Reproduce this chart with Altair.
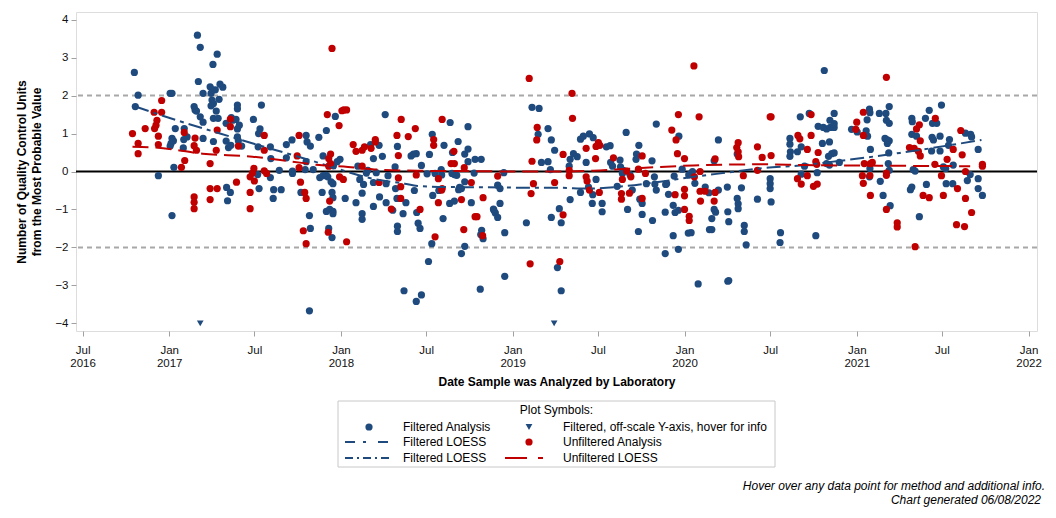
import altair as alt
import pandas as pd

# ---------------- data (x = days after 2016-07-01, y = control units from MPV) -------------
filtered_points = [
    (110, 2.61), (118, 2.01), (112, 1.71), (161, -0.11), (186, 2.06), (190, 2.06), (197, 1.13),
    (193, 0.81), (190, 0.87), (188, 0.74), (186, 0.67), (194, 0.11), (190, -1.16), (216, 1.13),
    (215, 0.84), (222, 0.91), (214, 0.62), (244, 3.59), (250, 3.27), (246, 2.37), (237, 1.71),
    (239, 1.62), (242, 1.59), (250, 1.44), (256, 1.30), (256, 2.06), (256, 0.87), (271, 2.23),
    (276, 2.15), (273, 2.06), (275, 1.88), (278, 1.79), (273, 1.73), (282, 2.15), (290, 1.90),
    (277, 2.82), (286, 3.09), (292, 2.30), (298, 2.22), (284, 1.59), (278, 1.40), (288, 1.40),
    (278, 0.79), (305, 1.27), (305, 0.80), (310, 0.63), (315, 0.69), (316, 1.42), (319, 1.35),
    (329, 1.75), (329, 1.65), (326, 1.37), (333, 1.22), (329, 1.12), (329, 0.91), (331, 0.81),
    (338, 0.67), (306, -0.42), (314, -0.55), (308, -0.77), (363, 1.37), (380, 1.75), (377, 1.12),
    (374, 1.00), (373, 0.65), (372, -0.08), (375, -0.45), (399, 0.65), (400, 0.34), (399, -0.16),
    (406, -0.48), (405, -0.71), (422, -0.48), (418, 0.03), (433, 0.71), (445, 0.83), (433, 0.36),
    (446, 0.01), (446, -0.05), (475, 0.95), (477, 0.78), (484, 0.67), (475, 0.26), (473, 0.05),
    (490, 0.05), (464, -0.55), (482, -1.16), (484, -1.50), (482, -3.67),
    (502, 0.90), (518, 1.08), (537, 1.45), (511, 0.41), (504, -0.16), (511, -0.11), (518, -0.10),
    (521, -0.14), (509, -0.55), (528, -0.27), (532, -0.32), (530, -0.55), (532, -0.69),
    (518, -1.05), (525, -1.00), (532, -1.05), (532, -1.11), (523, -1.50), (530, -1.74),
    (533, 0.15), (541, 0.26), (547, 0.32), (558, -0.71), (585, 0.14), (589, -0.21), (597, -0.34),
    (594, -0.57), (581, -0.82), (594, -1.11), (594, -1.26), (603, -0.04), (606, 0.03), (612, 0.71),
    (624, -0.03), (630, 0.69), (618, 0.34), (618, -0.29), (618, -0.92), (637, 0.40), (643, 1.50),
    (631, -0.67), (645, -0.82), (649, -0.11), (645, -0.32), (664, 0.12), (665, -0.45), (668, -0.71),
    (669, 0.66), (669, -1.44), (669, -1.58), (659, -1.02), (681, -1.11), (687, -0.82), (683, -3.14),
    (698, 0.41), (703, 0.46), (709, 0.47), (705, -0.50), (710, -1.08), (713, -1.36), (717, -1.50),
    (720, 0.16), (709, -3.42), (720, -3.25), (732, -0.06), (737, 0.45), (744, -0.63), (743, 0.98),
    (749, -0.05), (757, -0.50), (762, 0.05), (763, -0.09), (768, 0.69), (766, -1.24), (735, -2.37),
    (742, -1.90), (781, 1.29), (780, -0.84), (790, -0.78), (785, -0.05), (790, -0.08), (795, -0.10),
    (786, 0.50), (798, 0.79), (799, -0.48), (801, -0.42), (805, -0.45), (812, -1.97), (805, -2.16),
    (812, -0.27), (812, 0.46), (819, 0.59), (819, 1.18), (819, 0.26), (826, -0.82), (832, -0.04),
    (834, 0.32), (847, 0.32), (845, -3.10), (848, -1.55), (851, -1.77), (846, -1.66), (873, -0.99),
    (877, -1.09), (882, -1.21), (887, -0.84), (874, -1.02), (887, -0.45), (882, -0.36), (895, -0.03),
    (897, -1.61), (897, -2.76), (943, -1.35), (955, 1.69), (970, 1.66), (968, 0.98), (975, 0.24),
    (989, 0.26), (989, 1.13), (996, 0.83), (1003, 0.56), (994, 0.05), (996, -1.21), (1013, -0.98),
    (1017, -1.35), (1009, -2.53), (1017, -3.14),
    (1036, 0.32), (1034, 0.14), (1043, 0.47), (1051, 0.39), (1036, -0.74), (1058, 0.85),
    (1064, 0.93), (1077, 0.99), (1085, 0.89), (1070, 0.24), (1058, -0.55), (1084, -0.61),
    (1083, -0.84), (1091, -0.21), (1075, -0.41), (1104, -0.84), (1104, -1.06), (1113, 0.65),
    (1121, 0.68), (1122, 0.24), (1126, 0.14), (1142, 0.30), (1143, 0.12), (1149, 0.03), (1155, 1.03),
    (1136, -0.39), (1147, -0.05), (1163, -0.08), (1168, -0.49), (1158, -1.00), (1182, 0.69),
    (1177, 0.46), (1176, 0.32), (1184, -0.73), (1189, -0.84), (1189, -1.13), (1181, -1.58),
    (1198, -0.32), (1210, 0.28), (1215, -0.14), (1216, -0.33), (1219, -0.49), (1211, -1.29),
    (1219, 1.25), (1239, -0.34), (1241, -0.32), (1245, -0.60), (1238, -1.07), (1238, -2.16),
    (1257, -0.12), (1267, 0.93), (1255, -0.89), (1259, -1.08), (1266, -1.02), (1255, -1.69),
    (1266, -2.05), (1274, 0.06), (1288, -0.09), (1293, -0.05), (1296, 0.00), (1301, -0.31),
    (1287, -1.62), (1293, -1.61), (1308, -2.96), (1323, -0.41), (1331, -0.56), (1332, -1.53),
    (1337, -1.53), (1337, -1.24), (1342, -1.00), (1345, -1.07), (1342, 0.28), (1351, 0.83),
    (1351, -0.49), (1370, -0.41), (1371, -1.06), (1373, -1.32), (1371, -2.89), (1373, -2.87),
    (1391, 0.46), (1391, -0.71), (1393, -0.85), (1393, -0.98), (1400, -0.43), (1406, -1.42),
    (1406, -1.58), (1410, -1.93), (1434, -0.73), (1461, -0.19), (1461, -0.32), (1461, -0.45),
    (1463, -0.80), (1483, -1.61), (1482, -1.87), (1503, 0.87), (1503, 0.72), (1504, 0.52),
    (1503, 0.40), (1519, 0.52), (1525, 1.44), (1527, 0.65), (1527, -0.07), (1534, 0.14),
    (1544, 1.53), (1563, 1.19), (1574, 1.16), (1581, 1.12), (1589, 1.16), (1597, 1.16), (1597, 1.26),
    (1588, 1.35), (1597, 1.53), (1572, 0.74), (1587, 0.78), (1585, 0.40), (1592, 0.47), (1597, 0.49),
    (1587, 0.17), (1581, 0.21), (1608, 0.24), (1561, -0.03), (1576, 2.66), (1558, -1.69),
    (1634, 1.11), (1646, 1.04), (1667, 1.36), (1665, 1.07), (1668, 0.93), (1672, 1.64), (1673, 1.55),
    (1674, 0.58), (1673, 0.08), (1672, -0.14), (1693, 1.53), (1695, -0.26), (1701, -0.63),
    (1707, 1.53), (1708, 1.35), (1714, 1.71), (1714, 1.27), (1705, 0.87), (1710, 0.83), (1714, 0.81),
    (1710, 0.74), (1713, 0.49), (1712, 0.21), (1714, 0.03), (1716, -0.90), (1762, 1.40), (1763, 1.31),
    (1762, 0.98), (1772, 0.93), (1765, 0.05), (1769, 0.01), (1759, -0.48), (1762, -0.41),
    (1793, -0.34), (1778, -1.19), (1799, 1.61), (1791, 1.40), (1806, 1.27), (1815, 1.27), (1805, 0.90),
    (1808, 0.83), (1822, 0.93), (1822, 0.54), (1804, 0.54), (1825, 1.75), (1842, 0.84), (1840, 0.69),
    (1829, 0.12), (1834, 0.08), (1850, 0.17), (1835, -0.32), (1849, -0.32), (1876, 1.01), (1887, 0.98),
    (1889, 0.91), (1903, 0.58), (1886, -0.08), (1880, -0.24), (1903, -0.19), (1903, -0.45),
    (1912, -0.63),
]

offscale_points = [(250, -4.0), (1002, -4.0)]

unfiltered_points = [
    (106, 1.00), (118, 0.74), (118, 0.47), (133, 1.13), (152, 1.56), (168, 1.56), (168, 1.87),
    (158, 1.35), (156, 1.22), (153, 1.13), (161, 0.93), (161, 0.71), (216, 1.03), (217, 0.29),
    (210, 0.11), (239, 0.88), (237, 0.68), (242, 0.56), (237, -0.67), (237, -0.81), (237, -0.98),
    (271, 0.21), (271, -0.45), (286, -0.45), (271, -0.74), (286, 1.09), (284, 0.56), (314, 1.38),
    (314, 1.18), (331, 0.67), (327, -0.28), (356, -0.55), (356, -0.98), (364, 0.08), (361, -0.04),
    (356, -0.14), (365, -0.25), (386, 0.95), (386, 0.56), (386, 0.02), (391, -0.05), (456, 0.41),
    (460, 0.95), (460, 0.10), (463, -0.28), (472, -0.55), (475, -0.71), (469, -1.56), (475, -1.90),
    (530, 3.24), (520, 1.50), (551, 1.60), (555, 1.62), (561, 1.62), (545, 1.21), (527, 0.46),
    (523, 0.34), (527, 0.21), (523, 0.14), (546, -0.14), (554, -0.21), (525, -0.78), (522, -1.60),
    (561, -1.85), (575, 0.71), (581, 0.53), (594, 0.56), (599, 0.65), (613, 0.61), (622, 0.84),
    (622, 0.78), (594, 0.14), (630, -0.29), (656, -0.99), (668, 0.95), (671, 0.42), (677, 1.37),
    (671, -0.17), (676, -0.40), (676, -0.71), (692, 0.92), (707, 1.13), (709, -0.09), (717, -1.00),
    (746, 0.84), (746, 0.69), (764, 1.37), (756, -0.19), (764, -0.45), (763, -0.49), (756, -0.82),
    (749, -1.72), (789, 0.53), (783, 0.21), (790, 0.21), (811, 0.10), (826, -0.29), (805, -0.74),
    (851, -0.69), (834, -1.19), (838, -1.19), (810, -1.53), (850, -1.69), (882, -0.12), (949, 2.45),
    (966, 1.16), (965, 0.83), (955, 0.27), (958, -0.32), (953, -0.58), (951, -2.43), (1003, -0.29),
    (1021, 0.45), (1021, -1.14), (1014, -2.37),
    (1040, 2.06), (1041, 1.40), (1034, 0.03), (1034, -0.11), (1070, 0.61), (1070, -0.14),
    (1072, -0.25), (1077, -0.49), (1090, 0.34), (1091, 0.66), (1096, 0.76), (1099, 0.69),
    (1098, -0.55), (1128, 0.36), (1145, -0.58), (1145, -0.73), (1147, -0.21), (1162, -0.57),
    (1165, -0.14), (1156, 0.01), (1181, 0.06), (1189, 0.41), (1196, -0.05), (1189, -0.71),
    (1252, 1.09), (1261, 0.83), (1266, 1.50), (1264, 0.47), (1279, 0.34), (1259, -0.61),
    (1279, -0.47), (1279, -0.64), (1279, -1.00), (1289, -1.18), (1289, -1.29), (1299, 2.78),
    (1310, 1.44), (1300, -0.14), (1312, 0.00), (1312, -0.52), (1323, -0.52), (1313, -0.78),
    (1342, -0.78), (1344, 0.33), (1344, -0.55), (1404, -0.11), (1393, 0.76), (1390, 0.63),
    (1393, 0.52), (1394, 0.39), (1434, 0.65), (1444, 0.37), (1434, 0.03), (1463, 0.42), (1463, 1.44),
    (1461, 1.44), (1520, 0.95), (1524, 0.86), (1519, -0.19), (1527, -0.33),
    (1548, 1.50), (1548, 0.95), (1540, 0.58), (1563, 0.50), (1558, 0.26), (1560, 0.19), (1540, -0.11),
    (1553, -0.39), (1561, -0.33), (1645, 1.30), (1643, 1.11), (1659, 1.56), (1659, 0.95), (1661, 0.21),
    (1674, 0.21), (1678, 0.24), (1657, -0.11), (1673, -0.11), (1659, -0.31), (1674, -0.63),
    (1708, 2.48), (1708, -0.04), (1708, -0.10), (1708, -1.00), (1731, -1.35), (1731, -1.46),
    (1757, 0.63), (1772, 1.12), (1778, 1.23), (1780, 0.81), (1767, 0.61), (1776, 0.53), (1780, 0.41),
    (1769, -1.98), (1786, -0.63), (1799, -0.69), (1812, 1.40), (1811, 0.19), (1837, 0.32),
    (1825, -0.11), (1829, -0.63), (1850, 0.58), (1866, 1.08), (1869, 0.44), (1876, 0.00),
    (1859, -0.45), (1876, -0.71), (1889, -1.08), (1857, -1.40), (1874, -1.45), (1912, 0.19),
    (1912, 0.14),
]

filtered_loess = [
    (112, 1.71), (200, 1.35), (292, 1.00), (400, 0.60), (483, 0.30), (547, 0.05), (620, -0.20),
    (684, -0.32), (712, -0.38), (783, -0.41), (890, -0.42), (960, -0.43), (1014, -0.43),
    (1071, -0.45), (1156, -0.38), (1227, -0.27), (1298, -0.14), (1368, -0.03), (1439, 0.08),
    (1524, 0.16), (1595, 0.26), (1737, 0.49), (1910, 0.83),
]

unfiltered_loess = [
    (106, 0.65), (156, 0.63), (255, 0.47), (361, 0.39), (446, 0.26), (503, 0.17), (564, 0.12),
    (627, 0.05), (712, 0.02), (819, 0.01), (925, 0.00), (1014, 0.00), (1085, 0.02), (1156, 0.07),
    (1227, 0.12), (1298, 0.16), (1368, 0.18), (1439, 0.19), (1535, 0.17), (1737, 0.15), (1886, 0.14),
]

reference_lines = [2, -2]
tick_dates = ["2016-07-01", "2017-01-01", "2017-07-01", "2018-01-01", "2018-07-01",
              "2019-01-01", "2019-07-01", "2020-01-01", "2020-07-01", "2021-01-01",
              "2021-07-01", "2022-01-01"]
x_domain = ["2016-06-17", "2022-01-19"]
y_ticks = [-4, -3, -2, -1, 0, 1, 2, 3, 4]

BLUE = "#1F4A7E"
RED = "#C00000"
FONT = "Liberation Sans"
BASE = pd.Timestamp("2016-07-01")


def ms(ts):
    return int(pd.Timestamp(ts).value // 10**6)


def frame(points):
    df = pd.DataFrame(points, columns=["day", "val"])
    df["t"] = [ms(BASE + pd.Timedelta(days=float(d))) for d in df["day"]]
    return df


x_scale = alt.Scale(type="utc", domain=[ms(d) for d in x_domain])
y_scale = alt.Scale(domain=[-4.2, 4.2], nice=False, zero=False)

x_axis = alt.Axis(
    values=[ms(d) for d in tick_dates],
    labelExpr="[utcFormat(datum.value, '%b'), (utcmonth(datum.value) == 0 || utcyear(datum.value) == 2016) ? utcFormat(datum.value, '%Y') : '']",
    title="Date Sample was Analyzed by Laboratory",
    domain=False, grid=False, tickColor="#A0A0A0", tickSize=5,
    labelFontSize=11.5, labelColor="#111111", labelPadding=8, labelLineHeight=13,
    labelFont=FONT, titleFont=FONT, titleFontSize=12, titleFontWeight="bold",
    titleColor="#000000", titleY=45, titleBaseline="top",
)
y_axis = alt.Axis(
    values=y_ticks, format="d",
    title=["Number of Quality Control Units", "from the Most Probable Value"],
    domain=False, grid=False, tickColor="#A0A0A0", tickSize=5,
    labelFontSize=11.5, labelColor="#111111", labelPadding=3,
    labelFont=FONT, titleFont=FONT, titleFontSize=12, titleFontWeight="bold",
    titleColor="#000000", titleX=-48, titleBaseline="bottom", titleLineHeight=15,
)

X = alt.X("t:T", scale=x_scale, axis=x_axis)
Y = alt.Y("val:Q", scale=y_scale, axis=y_axis)

refs = alt.Chart(pd.DataFrame({"val": reference_lines})).mark_rule(
    color="#A8A8A8", strokeWidth=2, strokeDash=[5, 4]
).encode(y=Y)
zero = alt.Chart(pd.DataFrame({"val": [0]})).mark_rule(
    color="#000000", strokeWidth=2
).encode(y=Y)

filt_pts = alt.Chart(frame(filtered_points)).mark_circle(
    size=52, color=BLUE, opacity=1
).encode(x=X, y=Y)
off_pts = alt.Chart(frame(offscale_points)).mark_point(
    shape="triangle-down", filled=True, size=45, color=BLUE, opacity=1
).encode(x=X, y=Y)
unf_pts = alt.Chart(frame(unfiltered_points)).mark_circle(
    size=52, color=RED, opacity=1
).encode(x=X, y=Y)

filt_line = alt.Chart(frame(filtered_loess)).mark_line(
    color=BLUE, strokeWidth=2, strokeDash=[14, 5, 4, 5], interpolate="monotone"
).encode(x=X, y=Y, order="day:Q")
unf_line = alt.Chart(frame(unfiltered_loess)).mark_line(
    color=RED, strokeWidth=2, strokeDash=[16, 7], interpolate="monotone"
).encode(x=X, y=Y, order="day:Q")

# ---------------- manual legend ("Plot Symbols:") ----------------
one = alt.Data(values=[{}])
leg_box = alt.Chart(one).mark_rect(fill="white", stroke="#C8C8C8", strokeWidth=1).encode(
    x=alt.value(262), x2=alt.value(699), y=alt.value(389), y2=alt.value(455))


def leg_text(txt, x, y, align="left", style="normal"):
    return alt.Chart(one).mark_text(
        align=align, baseline="middle", font=FONT, fontSize=12, color="#000000", fontStyle=style
    ).encode(x=alt.value(x), y=alt.value(y), text=alt.value(txt))


leg_title = leg_text("Plot Symbols:", 480.5, 398, align="center")
leg_items = [
    alt.Chart(one).mark_circle(size=52, color=BLUE, opacity=1).encode(x=alt.value(293), y=alt.value(415)),
    leg_text("Filtered Analysis", 327, 415),
    alt.Chart(one).mark_point(shape="triangle-down", filled=True, size=45, color=BLUE, opacity=1).encode(
        x=alt.value(453), y=alt.value(415)),
    leg_text("Filtered, off-scale Y-axis, hover for info", 487, 415),
    alt.Chart(one).mark_rule(color=BLUE, strokeWidth=2, strokeDash=[10, 8, 3, 12]).encode(
        x=alt.value(269), x2=alt.value(317), y=alt.value(430)),
    leg_text("Filtered LOESS", 327, 430),
    alt.Chart(one).mark_circle(size=52, color=RED, opacity=1).encode(x=alt.value(453), y=alt.value(430)),
    leg_text("Unfiltered Analysis", 487, 430),
    alt.Chart(one).mark_rule(color=BLUE, strokeWidth=2, strokeDash=[8, 4, 2, 4]).encode(
        x=alt.value(269), x2=alt.value(317), y=alt.value(446)),
    leg_text("Filtered LOESS", 327, 446),
    alt.Chart(one).mark_rule(color=RED, strokeWidth=2, strokeDash=[22, 11]).encode(
        x=alt.value(429), x2=alt.value(467), y=alt.value(446)),
    leg_text("Unfiltered LOESS", 487, 446),
]

foot1 = leg_text("Hover over any data point for method and additional info.", 969, 474, align="right", style="italic")
foot2 = leg_text("Chart generated 06/08/2022", 965, 488, align="right", style="italic")

chart = alt.layer(
    refs, zero, filt_pts, off_pts, unf_pts, filt_line, unf_line,
    leg_box, leg_title, *leg_items, foot1, foot2,
).properties(
    width=961, height=319,
    autosize=alt.AutoSizeParams(type="none"),
    padding={"left": 68, "top": 4, "right": 11, "bottom": 179},
).configure_view(stroke="#A0A0A0", strokeWidth=1).configure(font=FONT)

chart.save("out.html", embed_options={"renderer": "svg", "actions": False})
